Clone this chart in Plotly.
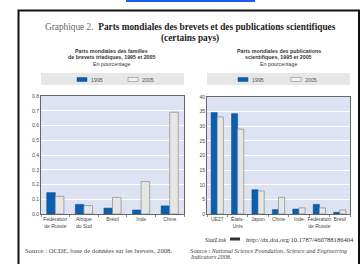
import plotly.graph_objects as go

W, H = 361, 264

cats_left = ["Fédération<br>de Russie", "Afrique<br>du Sud", "Brésil", "Inde", "Chine"]
left_1995 = [0.145, 0.065, 0.040, 0.027, 0.055]
left_2005 = [0.120, 0.057, 0.113, 0.220, 0.690]

cats_right = ["UE27", "États-<br>Unis", "Japon", "Chine", "Inde", "Fédération<br>de Russie", "Brésil"]
right_1995 = [34.7, 34.3, 8.3, 1.5, 1.7, 3.3, 0.6]
right_2005 = [33.2, 29.0, 7.9, 5.7, 2.1, 2.1, 1.4]

left_ticks = [0.0, 0.1, 0.2, 0.3, 0.4, 0.5, 0.6, 0.7, 0.8]
right_ticks = [0, 5, 10, 15, 20, 25, 30, 35, 40]

BLUE = "#0a5fae"
GRAY = "#e6e6e6"
SANS = "Liberation Sans Narrow, Liberation Sans, Arial"
SERIF = "Liberation Serif, DejaVu Serif, serif"


def px(x):
    return x / W


def py(y):
    return 1 - y / H


fig = go.Figure()

fig.add_trace(go.Bar(x=cats_left, y=left_1995, name="1995", marker=dict(color=BLUE, line=dict(color="#0a4a8a", width=0.5)),
                     xaxis="x", yaxis="y", showlegend=False))
fig.add_trace(go.Bar(x=cats_left, y=left_2005, name="2005", marker=dict(color=GRAY, line=dict(color="#888888", width=0.7)),
                     xaxis="x", yaxis="y", showlegend=False))
fig.add_trace(go.Bar(x=cats_right, y=right_1995, name="1995", marker=dict(color=BLUE, line=dict(color="#0a4a8a", width=0.5)),
                     xaxis="x2", yaxis="y2", showlegend=False))
fig.add_trace(go.Bar(x=cats_right, y=right_2005, name="2005", marker=dict(color=GRAY, line=dict(color="#888888", width=0.7)),
                     xaxis="x2", yaxis="y2", showlegend=False))

axis_common_x = dict(type="category", tickson="boundaries", ticks="outside", ticklen=2, tickcolor="#888",
                     tickangle=0, automargin=False,
                     showline=True, linecolor="#666", linewidth=1, mirror=True, showgrid=False,
                     tickfont=dict(family=SANS, size=5, color="#444"))
axis_common_y = dict(ticks="", showline=True, linecolor="#666", linewidth=1, mirror=True, showgrid=True,
                     gridcolor="#ffffff", gridwidth=0.8, zeroline=False, automargin=False,
                     tickfont=dict(family=SANS, size=5, color="#444"))

fig.update_layout(
    width=W, height=H, margin=dict(l=0, r=0, t=0, b=0),
    paper_bgcolor="white", plot_bgcolor="#dde3f2",
    barmode="group", bargap=0.4, bargroupgap=0.0,
    xaxis=dict(domain=[px(41), px(184)], anchor="y", **axis_common_x),
    yaxis=dict(domain=[py(214), py(96)], anchor="x", range=[0, 0.8], tickvals=left_ticks,
               tickformat=".1f", **axis_common_y),
    xaxis2=dict(domain=[px(207), px(350)], anchor="y2", **axis_common_x),
    yaxis2=dict(domain=[py(214), py(97)], anchor="x2", range=[0, 40], tickvals=right_ticks, **axis_common_y),
)

shapes = []
annots = []

# top blue bar and frame
shapes.append(dict(type="rect", xref="paper", yref="paper", x0=px(126), x1=px(255), y0=py(2), y1=py(0),
                   fillcolor="#1a5cf5", line=dict(width=0)))
shapes.append(dict(type="rect", xref="paper", yref="paper", x0=px(18.5), x1=px(359), y0=py(270), y1=py(10.5),
                   fillcolor="rgba(0,0,0,0)", line=dict(color="#111", width=2)))

# title
annots.append(dict(x=px(190), y=py(27), xref="paper", yref="paper", showarrow=False, xanchor="center", yanchor="middle",
                   text="<span style='color:#666'>Graphique 2.</span>  <b>Parts mondiales des brevets et des publications scientifiques</b>",
                   font=dict(family=SERIF, size=9.3, color="#222")))
annots.append(dict(x=px(190), y=py(38.6), xref="paper", yref="paper", showarrow=False, xanchor="center", yanchor="middle",
                   text="<b>(certains pays)</b>", font=dict(family=SERIF, size=9.3, color="#222")))

# subtitles
def subtitle(cx, lines):
    ys = [50.5, 57.2, 64.3]
    for i, (t, bold) in enumerate(lines):
        annots.append(dict(x=px(cx), y=py(ys[i]), xref="paper", yref="paper", showarrow=False, xanchor="center",
                           yanchor="middle", text=("<b>%s</b>" % t) if bold else t,
                           font=dict(family=SANS, size=5.3, color="#333")))


subtitle(112, [("Parts mondiales des familles", True), ("de brevets triadiques, 1995 et 2005", True),
               ("En pourcentage", False)])
subtitle(278.5, [("Parts mondiales des publications", True), ("scientifiques, 1995 et 2005", True),
                 ("En pourcentage", False)])

# legend boxes
def legend_box(x0, x1, sw1, sw2):
    shapes.append(dict(type="rect", xref="paper", yref="paper", x0=px(x0), x1=px(x1), y0=py(85), y1=py(73),
                       fillcolor="#e6e7e8", line=dict(width=0)))
    shapes.append(dict(type="rect", xref="paper", yref="paper", x0=px(sw1), x1=px(sw1 + 10), y0=py(81.5), y1=py(77.5),
                       fillcolor=BLUE, line=dict(color="#0a4a8a", width=0.5)))
    shapes.append(dict(type="rect", xref="paper", yref="paper", x0=px(sw2), x1=px(sw2 + 10), y0=py(81.5), y1=py(77.5),
                       fillcolor="#f2f2f2", line=dict(color="#888", width=0.6)))
    annots.append(dict(x=px(sw1 + 12), y=py(79.5), xref="paper", yref="paper", showarrow=False, xanchor="left",
                       yanchor="middle", text="1995", font=dict(family=SANS, size=5.3, color="#555")))
    annots.append(dict(x=px(sw2 + 12), y=py(79.5), xref="paper", yref="paper", showarrow=False, xanchor="left",
                       yanchor="middle", text="2005", font=dict(family=SANS, size=5.3, color="#555")))


legend_box(41, 184, 77, 128)
legend_box(207, 350, 238, 291)

# sources
annots.append(dict(x=px(23), y=py(250), xref="paper", yref="paper", showarrow=False, xanchor="left", yanchor="middle",
                   text="Source : OCDE, base de données sur les brevets, 2008.",
                   font=dict(family=SERIF, size=6.7, color="#444")))
annots.append(dict(x=px(203), y=py(239), xref="paper", yref="paper", showarrow=False, xanchor="left", yanchor="middle",
                   text="<i>StatLink</i>", font=dict(family=SERIF, size=6.3, color="#333")))
shapes.append(dict(type="rect", xref="paper", yref="paper", x0=px(230), x1=px(240), y0=py(240.5), y1=py(237.5),
                   fillcolor="#333", line=dict(width=0)))
annots.append(dict(x=px(356), y=py(239), xref="paper", yref="paper", showarrow=False, xanchor="right", yanchor="middle",
                   text="http://dx.doi.org/10.1787/460788186404",
                   font=dict(family=SERIF, size=6.6, color="#333")))
annots.append(dict(x=px(188), y=py(250.5), xref="paper", yref="paper", showarrow=False, xanchor="left", yanchor="middle",
                   text="Source : <i>National Science Foundation, Science and Engineering</i>",
                   font=dict(family=SERIF, size=6.1, color="#444")))
annots.append(dict(x=px(188), y=py(257), xref="paper", yref="paper", showarrow=False, xanchor="left", yanchor="middle",
                   text="<i>Indicators 2008.</i>",
                   font=dict(family=SERIF, size=6.1, color="#444")))

fig.update_layout(shapes=shapes, annotations=annots)
fig.write_html("out.html", config={"displayModeBar": False})

with open("out.html", "r", encoding="utf-8") as f:
    html = f.read()
html = html.replace("<head>", "<head><style>html,body{margin:0;padding:0;overflow:hidden;}</style>", 1)
with open("out.html", "w", encoding="utf-8") as f:
    f.write(html)
